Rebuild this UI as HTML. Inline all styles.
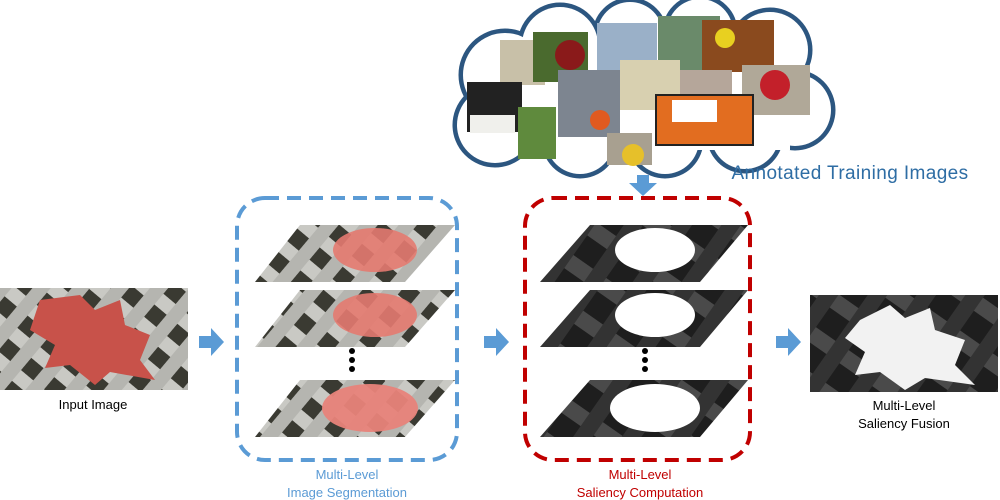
<!DOCTYPE html>
<html><head><meta charset="utf-8"><style>
body{margin:0;width:1000px;height:500px;background:#fff;overflow:hidden;font-family:"Liberation Sans",sans-serif}
svg{position:absolute;left:0;top:0}
</style></head><body>
<svg width="1000" height="500" viewBox="0 0 1000 500" xmlns="http://www.w3.org/2000/svg">
<defs>
<pattern id="lat" width="30" height="30" patternUnits="userSpaceOnUse" patternTransform="rotate(40)">
<rect width="30" height="30" fill="#3a3a32"/>
<rect x="0" y="0" width="30" height="14" fill="#c9c9c4"/>
<rect x="0" y="0" width="14" height="30" fill="#b5b5b0"/>
</pattern>
<pattern id="dk" width="40" height="40" patternUnits="userSpaceOnUse" patternTransform="rotate(35)">
<rect width="40" height="40" fill="#1e1e1e"/>
<rect x="0" y="0" width="40" height="16" fill="#4a4a4a"/>
<rect x="0" y="0" width="16" height="40" fill="#333"/>
</pattern>
</defs>

<rect x="0" y="288" width="188" height="102" fill="url(#lat)"/>
<path d="M40 300 L80 295 L95 310 L120 300 L125 325 L150 335 L140 360 L155 380 L110 372 L95 385 L70 365 L45 368 L55 345 L30 330 Z" fill="#c8524a"/>
<text x="93" y="409" font-size="13" text-anchor="middle" fill="#000">Input Image</text>

<g fill="#5b9bd5">
<path d="M199 336 h12 v-8 l13 14 l-13 14 v-8 h-12z"/>
<path d="M484 336 h12 v-8 l13 14 l-13 14 v-8 h-12z"/>
<path d="M776 336 h12 v-8 l13 14 l-13 14 v-8 h-12z"/>
<path d="M637 175 h12 v8 h8 l-14 13 l-14 -13 h8z"/>
</g>

<rect x="237" y="198" width="220" height="262" rx="28" fill="none" stroke="#5b9bd5" stroke-width="4" stroke-dasharray="14 8"/>
<polygon points="300,225 455,225 405,282 255,282" fill="url(#lat)"/>
<ellipse cx="375" cy="250" rx="42" ry="22" fill="#e47a70" opacity=".9"/>
<polygon points="300,290 455,290 405,347 255,347" fill="url(#lat)"/>
<ellipse cx="375" cy="315" rx="42" ry="22" fill="#e47a70" opacity=".9"/>
<polygon points="300,380 455,380 405,437 255,437" fill="url(#lat)"/>
<ellipse cx="370" cy="408" rx="48" ry="24" fill="#e8837a" opacity=".95"/>
<g fill="#000"><circle cx="352" cy="351" r="3"/><circle cx="352" cy="360" r="3"/><circle cx="352" cy="369" r="3"/></g>
<text x="347" y="479" font-size="13" text-anchor="middle" fill="#5b9bd5">Multi-Level</text>
<text x="347" y="497" font-size="13" text-anchor="middle" fill="#5b9bd5">Image Segmentation</text>

<rect x="525" y="198" width="225" height="262" rx="28" fill="none" stroke="#c00000" stroke-width="4" stroke-dasharray="14 8"/>
<polygon points="590,225 748,225 700,282 540,282" fill="url(#dk)"/>
<ellipse cx="655" cy="250" rx="40" ry="22" fill="#fff"/>
<polygon points="590,290 748,290 700,347 540,347" fill="url(#dk)"/>
<ellipse cx="655" cy="315" rx="40" ry="22" fill="#fff"/>
<polygon points="590,380 748,380 700,437 540,437" fill="url(#dk)"/>
<ellipse cx="655" cy="408" rx="45" ry="24" fill="#fff"/>
<g fill="#000"><circle cx="645" cy="351" r="3"/><circle cx="645" cy="360" r="3"/><circle cx="645" cy="369" r="3"/></g>
<text x="640" y="479" font-size="13" text-anchor="middle" fill="#c00000">Multi-Level</text>
<text x="640" y="497" font-size="13" text-anchor="middle" fill="#c00000">Saliency Computation</text>

<rect x="810" y="295" width="188" height="97" fill="url(#dk)"/>
<path d="M860 320 L890 305 L905 318 L930 308 L935 330 L965 340 L955 365 L975 385 L925 378 L905 390 L880 372 L855 375 L865 352 L845 338 Z" fill="#f2f2f2"/>
<text x="904" y="410" font-size="13" text-anchor="middle" fill="#000">Multi-Level</text>
<text x="904" y="428" font-size="13" text-anchor="middle" fill="#000">Saliency Fusion</text>

<g fill="#fff" stroke="#2c5680" stroke-width="9">
<circle cx="505" cy="75" r="42"/><circle cx="495" cy="125" r="38"/><circle cx="560" cy="45" r="38"/><circle cx="630" cy="35" r="33"/>
<circle cx="700" cy="32" r="33"/><circle cx="770" cy="50" r="38"/><circle cx="795" cy="110" r="36"/><circle cx="745" cy="135" r="34"/>
<circle cx="665" cy="140" r="34"/><circle cx="580" cy="140" r="34"/>
</g>
<g fill="#fff">
<circle cx="505" cy="75" r="42"/><circle cx="495" cy="125" r="38"/><circle cx="560" cy="45" r="38"/><circle cx="630" cy="35" r="33"/>
<circle cx="700" cy="32" r="33"/><circle cx="770" cy="50" r="38"/><circle cx="795" cy="110" r="36"/><circle cx="745" cy="135" r="34"/>
<circle cx="665" cy="140" r="34"/><circle cx="580" cy="140" r="34"/>
<rect x="500" y="40" width="290" height="110"/>
</g>
<g>
<rect x="500" y="40" width="45" height="45" fill="#c8c0a8"/>
<rect x="533" y="32" width="55" height="50" fill="#4a6a2e"/>
<circle cx="570" cy="55" r="15" fill="#8a1a1a"/>
<rect x="597" y="23" width="60" height="52" fill="#9ab0c8"/>
<rect x="658" y="16" width="62" height="60" fill="#6a8a6a"/>
<rect x="702" y="20" width="72" height="52" fill="#8a4a1e"/>
<circle cx="725" cy="38" r="10" fill="#e8d020"/>
<rect x="467" y="82" width="55" height="50" fill="#222"/>
<rect x="470" y="115" width="45" height="18" fill="#f0f0ec"/>
<rect x="518" y="107" width="38" height="52" fill="#5f8a3d"/>
<rect x="558" y="70" width="62" height="67" fill="#7d8590"/>
<circle cx="600" cy="120" r="10" fill="#e05a20"/>
<rect x="620" y="60" width="60" height="50" fill="#d8d0b0"/>
<rect x="607" y="133" width="45" height="32" fill="#a8a090"/>
<circle cx="633" cy="155" r="11" fill="#e6c02a"/>
<rect x="680" y="70" width="52" height="28" fill="#b5a69a"/>
<rect x="742" y="65" width="68" height="50" fill="#b0a898"/>
<circle cx="775" cy="85" r="15" fill="#c3202a"/>
<rect x="656" y="95" width="97" height="50" fill="#e26d20" stroke="#222" stroke-width="2"/>
<rect x="672" y="100" width="45" height="22" fill="#fff"/>
</g>
<text x="850" y="179" font-size="19" letter-spacing="0.4" text-anchor="middle" fill="#2e6da4">Annotated Training Images</text>
</svg>
</body></html>
